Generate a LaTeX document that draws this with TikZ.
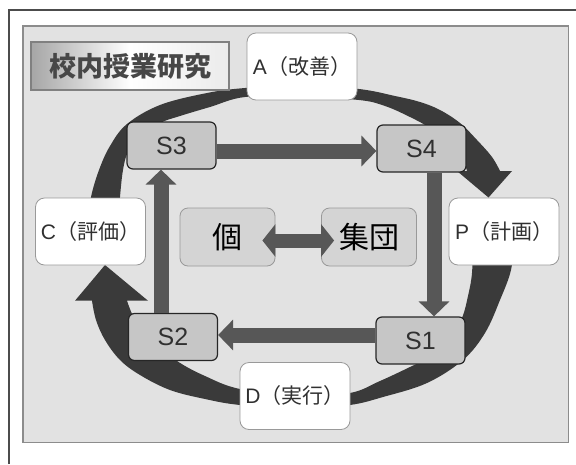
\documentclass[tikz,border=0pt]{standalone}
\usepackage{fontspec}
\setmainfont{Liberation Sans}
\newfontfamily\cjk{Noto Sans CJK JP}
\usetikzlibrary{arrows.meta}
\definecolor{slidebg}{HTML}{E2E2E2}
\definecolor{ringc}{HTML}{3A3A3A}
\definecolor{blk}{HTML}{575757}
\definecolor{sfill}{HTML}{C6C6C6}
\definecolor{txt}{HTML}{303030}
\begin{document}
\begin{tikzpicture}[x=1pt,y=-1pt,
  phase/.style={draw=black!40, line width=0.8pt, fill=white, rounded corners=9pt,
    minimum width=110pt, minimum height=67pt, inner sep=0pt,
    font=\fontsize{21}{24}\selectfont, text=txt},
  sbox/.style={draw=black!85, line width=1.2pt, fill=sfill, rounded corners=6pt,
    minimum width=89pt, minimum height=47pt, inner sep=0pt,
    font=\fontsize{25}{28}\selectfont, text=txt},
  ibox/.style={draw=black!40, line width=0.8pt, fill=black!17, rounded corners=8pt,
    minimum width=95pt, minimum height=58pt, inner sep=0pt,
    font=\cjk\fontsize{30}{33}\selectfont, text=black},
  titlebox/.style={draw=black!50, line width=1.5pt, left color=black!35, right color=black!8,
    middle color=white, minimum width=198pt, minimum height=48pt, inner sep=0pt,
    font=\cjk\bfseries\fontsize{27}{30}\selectfont, text=black!72},
  blockarrow/.style={line width=15pt, draw=blk, -{Triangle[length=15pt,width=30pt]}},
  ring/.style={fill=ringc},
]
\useasboundingbox (0,0) rectangle (576,464);
% outer frame
\draw[line width=1.2pt, black!70] (9,464) -- (9,10) -- (576,10);
% slide
\draw[fill=slidebg, draw=black!45, line width=1.5pt] (23,26) rectangle (568.5,442.5);

% cycle arrow 1: C -> A -> P
\fill[ring]
  plot[smooth, tension=0.6] coordinates {(86,250) (88,222) (91,197) (99,170) (110,146)
    (127,124) (160,105) (207,93) (245,88) (300,85) (359,89) (395,96) (420,102)
    (440,110) (460,123) (477,140) (492,157) (500,171)}
  -- (512,171) -- (488.5,197.5) -- (457,171)
  -- plot[smooth, tension=0.6] coordinates {(467,171) (462,158) (450,143) (430,128)
    (410,117) (385,106) (359,100) (300,97) (245,97) (210,107) (180,116) (160,123)
    (140,136) (128,152) (123,170) (120,197) (118,225) (117,250)}
  -- cycle;
% cycle arrow 2: P -> D -> C
\fill[ring]
  plot[smooth, tension=0.6] coordinates {(514,240) (511,270) (500,300) (485,333)
    (463,360) (427,383) (383,397) (350,405) (300,409) (240,405) (205,399) (170,390)
    (140,375) (120,360) (105,340) (96,320) (92,300.7)}
  -- (75,300.7) -- (105,265) -- (148,300.7)
  -- plot[smooth, tension=0.6] coordinates {(127,300.7) (135,320) (150,340) (177,361)
    (205,376) (240,389) (300,396) (350,393) (380,381) (410,367) (432,356) (450,340)
    (462,318) (468,296) (472,273) (473,240)}
  -- cycle;

% title
\node[titlebox] (T) at (130,66) {校内授業研究};

% phase boxes
\node[phase] (A) at (302,66.5) {A\cjk（改善）};
\node[phase] (C) at (90.5,231.5) {C\cjk（評価）};
\node[phase] (P) at (504,231.5) {P\cjk（計画）};
\node[phase] (D) at (295,396) {D\cjk（実行）};

% step boxes
\node[sbox] (S3) at (171.5,145.5) {S3};
\node[sbox] (S4) at (421.5,148.5) {S4};
\node[sbox] (S2) at (173,337) {S2};
\node[sbox] (S1) at (420.5,340.5) {S1};

% individual / group
\node[ibox] (I) at (227.5,237) {個};
\node[ibox] (G) at (369,237) {集団};

% block arrows
\draw[blockarrow] ([yshift=-5.5pt]S3.east) -- ([yshift=-2.5pt]S4.west);
\draw[blockarrow] ([xshift=12.5pt]S4.south) -- ([xshift=13.5pt]S1.north);
\draw[blockarrow] ([yshift=5.5pt]S1.west) -- ([yshift=2pt]S2.east);
\draw[blockarrow] ([xshift=-12pt]S2.north) -- ([xshift=-10.5pt]S3.south);
\draw[line width=14pt, draw=blk, {Triangle[length=13pt,width=32pt]}-{Triangle[length=13pt,width=32pt]}]
  ([xshift=-13pt,yshift=-3.5pt]I.east) -- ([xshift=13pt,yshift=-3.5pt]G.west);
\end{tikzpicture}
\end{document}
